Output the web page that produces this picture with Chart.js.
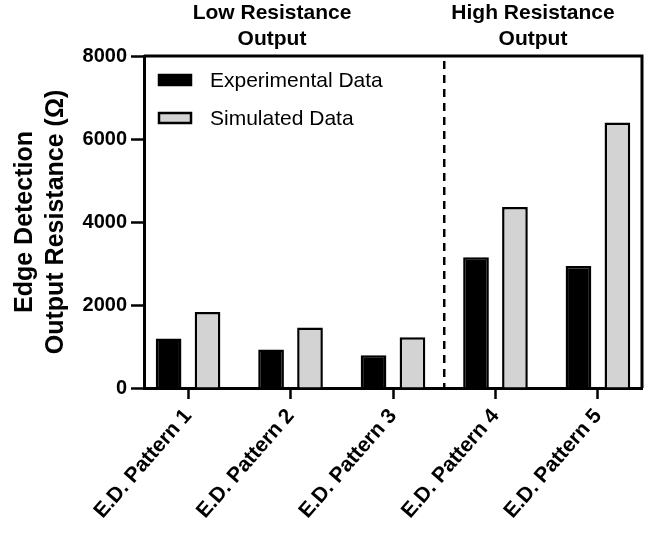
<!DOCTYPE html>
<html>
<head>
<meta charset="utf-8">
<script src="https://cdn.jsdelivr.net/npm/chart.js@4"></script>
<style>
  html, body { margin: 0; padding: 0; background: #fff; }
  #wrap { width: 659px; height: 533px; }
</style>
</head>
<body>
<div id="wrap"><canvas id="grafico" width="659" height="533"></canvas></div>
<script>
// data
const categorias = ["E.D. Pattern 1", "E.D. Pattern 2", "E.D. Pattern 3", "E.D. Pattern 4", "E.D. Pattern 5"];
const experimental = [1190, 930, 790, 3150, 2940];
const simulado = [1830, 1460, 1220, 4360, 6400];
const yTicks = [0, 2000, 4000, 6000, 8000];
const grupos = ["Low Resistance\nOutput", "High Resistance\nOutput"];
const divisao = 2.5; // between pattern 3 and 4

const FONTE = "'Liberation Sans', Arial, sans-serif";

function pontos(valores) {
  return valores.map((v, i) => ({ x: i, y: v }));
}

// frame, dashed divider, group titles, legend
const extras = {
  id: "extras",
  afterDraw(chart) {
    const ctx = chart.ctx;
    const a = chart.chartArea;
    const xs = chart.scales.x;

    ctx.save();
    ctx.strokeStyle = "#000";
    ctx.lineWidth = 3;
    ctx.beginPath();
    ctx.moveTo(a.left, a.top);
    ctx.lineTo(a.right, a.top);
    ctx.lineTo(a.right, a.bottom);
    ctx.stroke();

    const xd = xs.getPixelForValue(divisao);
    ctx.lineWidth = 2.5;
    ctx.setLineDash([8, 6]);
    ctx.beginPath();
    ctx.moveTo(xd, a.top + 5);
    ctx.lineTo(xd, a.bottom);
    ctx.stroke();
    ctx.setLineDash([]);

    ctx.fillStyle = "#000";
    ctx.font = "bold 21px " + FONTE;
    ctx.textAlign = "center";
    ctx.textBaseline = "middle";
    const centros = [272, 533];
    grupos.forEach((g, i) => {
      g.split("\n").forEach((linha, j) => {
        ctx.fillText(linha, centros[i], 13 + j * 26);
      });
    });

    // legend
    ctx.font = "21px " + FONTE;
    ctx.textAlign = "left";
    chart.data.datasets.forEach((ds, i) => {
      const yc = a.top + 24 + i * 38;
      ctx.fillStyle = ds.backgroundColor;
      ctx.fillRect(159, yc - 5, 32, 10);
      ctx.lineWidth = 2.5;
      ctx.strokeStyle = "#000";
      ctx.strokeRect(159, yc - 5, 32, 10);
      ctx.fillStyle = "#000";
      ctx.fillText(ds.label, 210, yc + 1);
    });
    ctx.restore();
  }
};

new Chart(document.getElementById("grafico"), {
  type: "bar",
  data: {
    datasets: [
      {
        label: "Experimental Data",
        data: pontos(experimental),
        backgroundColor: "#000",
        borderColor: "#000",
        borderWidth: 2.5
      },
      {
        label: "Simulated Data",
        data: pontos(simulado),
        backgroundColor: "#d3d3d3",
        borderColor: "#000",
        borderWidth: 2.5
      }
    ]
  },
  options: {
    responsive: false,
    animation: false,
    categoryPercentage: 0.76,
    barPercentage: 0.66,
    layout: { padding: { top: 56, right: 17, left: 0, bottom: 0 } },
    plugins: {
      legend: { display: false },
      tooltip: { enabled: false }
    },
    scales: {
      x: {
        type: "linear",
        min: -0.43,
        max: 4.43,
        offset: false,
        afterFit(s) { s.height = 145; },
        afterBuildTicks(s) { s.ticks = categorias.map((c, i) => ({ value: i })); },
        grid: {
          display: true,
          offset: false,
          drawOnChartArea: false,
          drawTicks: true,
          tickLength: 11,
          tickWidth: 2.5,
          tickColor: "#000"
        },
        border: { display: true, color: "#000", width: 3 },
        ticks: {
          color: "#000",
          font: { family: FONTE, size: 21, weight: "bold" },
          maxRotation: 49,
          minRotation: 49,
          padding: 5,
          includeBounds: false,
          callback: v => categorias[v]
        }
      },
      y: {
        min: 0,
        max: 8000,
        afterFit(s) { s.width = 144; },
        afterBuildTicks(s) { s.ticks = yTicks.map(v => ({ value: v })); },
        grid: {
          display: true,
          drawOnChartArea: false,
          drawTicks: true,
          tickLength: 13,
          tickWidth: 2.5,
          tickColor: "#000"
        },
        border: { display: true, color: "#000", width: 3 },
        ticks: {
          color: "#000",
          font: { family: FONTE, size: 20, weight: "bold" },
          padding: 4,
          callback: v => String(v)
        },
        title: {
          display: true,
          text: ["Edge Detection", "Output Resistance (Ω)"],
          color: "#000",
          font: { family: FONTE, size: 25, weight: "bold", lineHeight: 1.25 },
          padding: { top: 9, bottom: 0 }
        }
      }
    }
  },
  plugins: [extras]
});
</script>
</body>
</html>
